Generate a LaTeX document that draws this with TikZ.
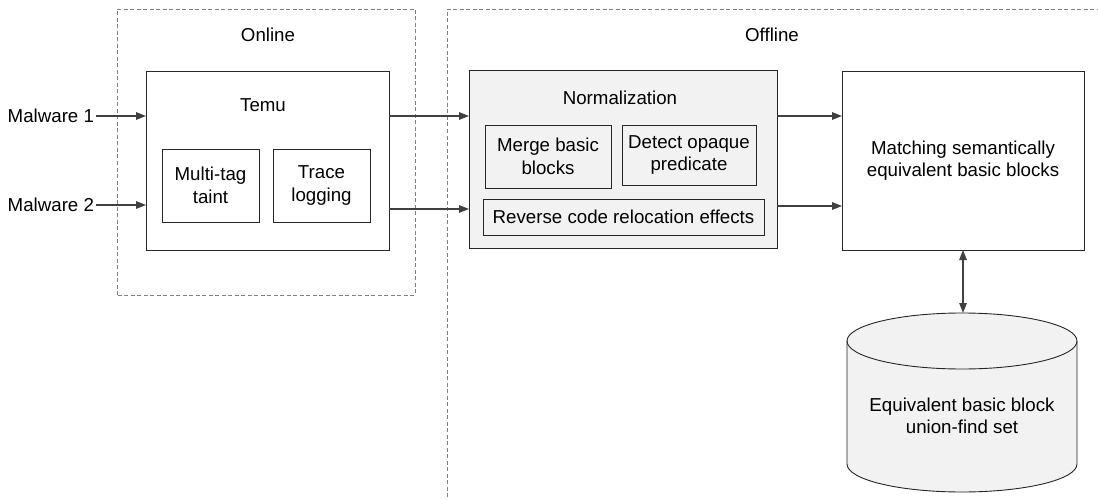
\documentclass[tikz,border=0pt]{standalone}
\usepackage{fontspec}
\setmainfont{Liberation Sans}
\usetikzlibrary{arrows.meta}
\definecolor{arrgray}{HTML}{404040}
\definecolor{dashgray}{HTML}{808080}
\definecolor{boxfill}{HTML}{F2F2F2}
\begin{document}
\begin{tikzpicture}[x=1pt,y=-1pt,
  every node/.style={font=\fontsize{18.7}{22.5}\selectfont, inner sep=0pt, outer sep=0pt},
  box/.style={draw=black!85, line width=0.9pt, rectangle, align=center},
  grayfill/.style={fill=boxfill},
  arr/.style={draw=arrgray, line width=1.4pt, -{Triangle[length=10pt,width=7.5pt]}},
  darr/.style={draw=arrgray, line width=1.4pt, {Triangle[length=10pt,width=7.5pt]}-{Triangle[length=10pt,width=7.5pt]}},
  zone/.style={draw=dashgray, line width=0.8pt, dash pattern=on 4pt off 2.5pt}
]
\useasboundingbox (0,0) rectangle (1098,500);

% zones
\draw[zone] (117,295) -- (117,9) -- (415,9) -- (415,295) -- cycle;
\draw[zone] (447,497) -- (447,9) -- (1098,9);
\node (onlinelbl) at (268,35) {Online};
\node (offlinelbl) at (772,35) {Offline};

% inputs
\node[anchor=east] (m1) at (94,116) {Malware 1};
\node[anchor=east] (m2) at (94,205) {Malware 2};

% Temu
\node[box, minimum width=243pt, minimum height=179pt] (temu) at (267.5,160.5) {};
\node (temulbl) at (263,105) {Temu};
\node[box, minimum width=97pt, minimum height=73pt] (mtt) at (210.5,185.5) {Multi-tag\\taint};
\node[box, minimum width=97pt, minimum height=73pt] (trl) at (321.5,185.5) {Trace\\logging};

% Normalization
\node[box, grayfill, minimum width=308pt, minimum height=178pt] (norm) at (623,159) {};
\node (normlbl) at (620,98) {Normalization};
\node[box, grayfill, minimum width=126pt, minimum height=63pt] (mbb) at (548,156.5) {Merge basic\\blocks};
\node[box, grayfill, minimum width=134pt, minimum height=60pt] (dop) at (689,155) {Detect opaque\\predicate};
\node[box, grayfill, minimum width=281pt, minimum height=36pt] (rcr) at (623.5,217) {Reverse code relocation effects};

% Matching
\node[box, minimum width=242pt, minimum height=179pt] (match) at (963,160.5) {Matching semantically\\equivalent basic blocks};

% Cylinder database
\draw[draw=black!85, line width=0.9pt, fill=boxfill]
  (847,341) -- (847,464) arc[start angle=180, end angle=0, x radius=115, y radius=28]
  -- (1077,341) arc[start angle=0, end angle=-180, x radius=115, y radius=28] -- cycle;
\draw[draw=black!85, line width=0.9pt]
  (847,341) arc[start angle=180, end angle=0, x radius=115, y radius=28];
\coordinate (cyltop) at (963,313);
\node[align=center] (db) at (962,416) {Equivalent basic block\\union-find set};

% helper rows
\coordinate (row1) at (0,116);
\coordinate (row2) at (0,209);
\coordinate (row3) at (0,206);

% connectors
\draw[arr] ([xshift=2pt]m1.east) -- (temu.west |- m1);
\draw[arr] ([xshift=2pt]m2.east) -- (temu.west |- m2);
\draw[arr] (temu.east |- row1) -- (norm.west |- row1);
\draw[arr] (temu.east |- row2) -- (norm.west |- row2);
\draw[arr] (norm.east |- row1) -- (match.west |- row1);
\draw[arr] (norm.east |- row3) -- (match.west |- row3);
\draw[darr] (match.south) -- (cyltop);
\end{tikzpicture}
\end{document}
